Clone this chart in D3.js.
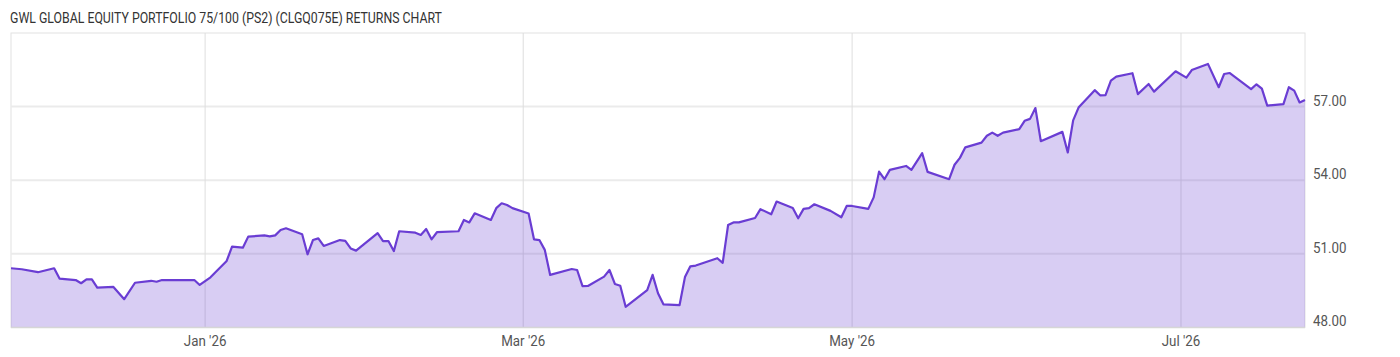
<!DOCTYPE html>
<html>
<head>
<meta charset="utf-8">
<script src="https://cdn.jsdelivr.net/npm/d3@7"></script>
<style>
    body { margin: 0; background: #fff; }
    text { font-family: Roboto, "Noto Sans", sans-serif; }
</style>
</head>
<body>
<div id="chart"></div>
<script>
// chart values
const chartTitle = "GWL GLOBAL EQUITY PORTFOLIO 75/100 (PS2) (CLGQ075E) RETURNS CHART";

const dates = [
    "2025-11-26", "2025-11-28", "2025-12-01", "2025-12-04", "2025-12-05", "2025-12-08", "2025-12-09",
    "2025-12-10", "2025-12-11", "2025-12-12", "2025-12-15", "2025-12-17", "2025-12-19", "2025-12-22",
    "2025-12-23", "2025-12-24", "2025-12-30", "2025-12-31", "2026-01-02", "2026-01-05", "2026-01-06",
    "2026-01-08", "2026-01-09", "2026-01-12", "2026-01-13", "2026-01-14", "2026-01-15", "2026-01-16",
    "2026-01-19", "2026-01-20", "2026-01-21", "2026-01-22", "2026-01-23", "2026-01-26", "2026-01-27",
    "2026-01-28", "2026-01-29", "2026-02-02", "2026-02-03", "2026-02-04", "2026-02-05", "2026-02-06",
    "2026-02-09", "2026-02-10", "2026-02-11", "2026-02-12", "2026-02-13", "2026-02-17", "2026-02-18",
    "2026-02-19", "2026-02-20", "2026-02-23", "2026-02-24", "2026-02-25", "2026-02-26", "2026-02-27",
    "2026-03-02", "2026-03-03", "2026-03-04", "2026-03-05", "2026-03-06", "2026-03-10", "2026-03-11",
    "2026-03-12", "2026-03-13", "2026-03-16", "2026-03-17", "2026-03-18", "2026-03-19", "2026-03-20",
    "2026-03-24", "2026-03-25", "2026-03-26", "2026-03-27", "2026-03-30", "2026-03-31", "2026-04-01",
    "2026-04-02", "2026-04-06", "2026-04-07", "2026-04-08", "2026-04-09", "2026-04-10", "2026-04-13",
    "2026-04-14", "2026-04-16", "2026-04-17", "2026-04-20", "2026-04-21", "2026-04-22", "2026-04-23",
    "2026-04-24", "2026-04-27", "2026-04-29", "2026-04-30", "2026-05-01", "2026-05-04", "2026-05-05",
    "2026-05-06", "2026-05-07", "2026-05-08", "2026-05-11", "2026-05-12", "2026-05-14", "2026-05-15",
    "2026-05-19", "2026-05-20", "2026-05-21", "2026-05-22", "2026-05-25", "2026-05-26", "2026-05-27",
    "2026-05-28", "2026-05-29", "2026-06-01", "2026-06-02", "2026-06-03", "2026-06-04", "2026-06-05",
    "2026-06-09", "2026-06-10", "2026-06-11", "2026-06-12", "2026-06-15", "2026-06-16", "2026-06-17",
    "2026-06-18", "2026-06-19", "2026-06-22", "2026-06-23", "2026-06-25", "2026-06-26", "2026-06-30",
    "2026-07-02", "2026-07-03", "2026-07-06", "2026-07-08", "2026-07-09", "2026-07-10", "2026-07-14",
    "2026-07-15", "2026-07-16", "2026-07-17", "2026-07-20", "2026-07-21", "2026-07-22", "2026-07-23",
    "2026-07-24"
];

const prices = [
    50.41, 50.37, 50.25, 50.41, 49.99, 49.93, 49.80,
    49.96, 49.96, 49.62, 49.65, 49.15, 49.82, 49.90,
    49.86, 49.93, 49.93, 49.73, 50.04, 50.71, 51.29,
    51.25, 51.70, 51.75, 51.71, 51.75, 51.97, 52.04,
    51.80, 50.98, 51.56, 51.63, 51.32, 51.56, 51.53,
    51.22, 51.13, 51.84, 51.52, 51.52, 51.11, 51.92,
    51.86, 51.77, 52.01, 51.59, 51.88, 51.92, 52.38,
    52.28, 52.65, 52.38, 52.86, 53.06, 52.99, 52.86,
    52.64, 51.59, 51.56, 51.16, 50.14, 50.38, 50.34,
    49.68, 49.69, 50.07, 50.34, 49.77, 49.70, 48.84,
    49.52, 50.14, 49.39, 48.94, 48.91, 50.05, 50.49,
    50.52, 50.82, 50.63, 52.17, 52.28, 52.28, 52.46,
    52.82, 52.61, 53.13, 52.87, 52.45, 52.83, 52.86,
    53.02, 52.75, 52.49, 52.95, 52.95, 52.83, 53.30,
    54.35, 54.04, 54.42, 54.58, 54.42, 55.10, 54.34,
    54.04, 54.63, 54.91, 55.34, 55.53, 55.81, 55.94,
    55.81, 55.94, 56.08, 56.42, 56.50, 56.94, 55.59,
    55.97, 55.13, 56.44, 56.96, 57.67, 57.46, 57.47,
    58.06, 58.22, 58.36, 57.51, 57.92, 57.61, 58.44,
    58.18, 58.49, 58.74, 57.79, 58.33, 58.37, 57.71,
    57.91, 57.73, 57.04, 57.10, 57.79, 57.65, 57.17,
    57.27
];

const yTicks = [48, 51, 54, 57];
const yDomain = [48, 60];
const xDomain = ["2025-11-26", "2026-07-24"];

// shrink text horizontally, the original uses a condensed face
function condense(sel, k) {
    sel.each(function () {
        let w = this.getComputedTextLength();
        d3.select(this)
            .attr("textLength", w * k)
            .attr("lengthAdjust", "spacingAndGlyphs");
    });
}

const width = 1400, height = 357;
const plot = { left: 11, right: 1305, top: 33, bottom: 327.4 };

const parseDate = d3.timeParse("%Y-%m-%d");
const data = dates.map((d, i) => ({ date: parseDate(d), value: prices[i] }));

const svg = d3.select("#chart").append("svg")
    .attr("width", width)
    .attr("height", height);

const x = d3.scaleTime()
    .domain(xDomain.map(parseDate))
    .range([plot.left, plot.right]);

const y = d3.scaleLinear()
    .domain(yDomain)
    .range([plot.bottom, plot.top]);

// title
svg.append("text")
    .attr("x", 10)
    .attr("y", 23)
    .attr("fill", "#333")
    .style("font-size", "15px")
    .text(chartTitle)
    .call(condense, 0.82);

// plot frame
svg.append("rect")
    .attr("x", plot.left)
    .attr("y", plot.top)
    .attr("width", plot.right - plot.left)
    .attr("height", plot.bottom - plot.top)
    .attr("fill", "none")
    .attr("stroke", "#e2e2e2")
    .attr("stroke-width", 1);

// horizontal grid
svg.append("g")
    .selectAll("line")
    .data(yTicks.slice(1))
    .enter().append("line")
    .attr("x1", plot.left)
    .attr("x2", plot.right)
    .attr("y1", d => y(d))
    .attr("y2", d => y(d))
    .attr("stroke", "#ebebeb")
    .attr("stroke-width", 2);

// vertical grid at every second month
const monthTicks = x.ticks(d3.timeMonth.every(2));
svg.append("g")
    .selectAll("line")
    .data(monthTicks)
    .enter().append("line")
    .attr("x1", d => x(d))
    .attr("x2", d => x(d))
    .attr("y1", plot.top)
    .attr("y2", plot.bottom)
    .attr("stroke", "#dedede")
    .attr("stroke-width", 1);

// area + line
const area = d3.area()
    .x(d => x(d.date))
    .y0(y(yDomain[0]))
    .y1(d => y(d.value));

const line = d3.line()
    .x(d => x(d.date))
    .y(d => y(d.value));

svg.append("path")
    .datum(data)
    .attr("d", area)
    .attr("fill", "rgb(104,60,210)")
    .attr("fill-opacity", 0.26);

svg.append("path")
    .datum(data)
    .attr("d", line)
    .attr("fill", "none")
    .attr("stroke", "#6a3dd3")
    .attr("stroke-width", 2.2)
    .attr("stroke-linejoin", "round");

// bottom axis line
svg.append("line")
    .attr("x1", plot.left)
    .attr("x2", plot.right)
    .attr("y1", plot.bottom)
    .attr("y2", plot.bottom)
    .attr("stroke", "#d6d6d6")
    .attr("stroke-width", 1.5);

// x axis labels
const fmtMonth = d3.timeFormat("%b '%y");
svg.append("g")
    .selectAll("text")
    .data(monthTicks)
    .enter().append("text")
    .attr("x", d => x(d))
    .attr("y", 346)
    .attr("text-anchor", "middle")
    .attr("fill", "#555")
    .style("font-size", "15.5px")
    .text(d => fmtMonth(d))
    .call(condense, 0.86);

// y axis labels on the right
svg.append("g")
    .selectAll("text")
    .data(yTicks)
    .enter().append("text")
    .attr("x", 1313)
    .attr("y", d => y(d) - 1)
    .attr("fill", "#555")
    .style("font-size", "15.5px")
    .text(d => d3.format(".2f")(d))
    .call(condense, 0.86);
</script>
</body>
</html>
